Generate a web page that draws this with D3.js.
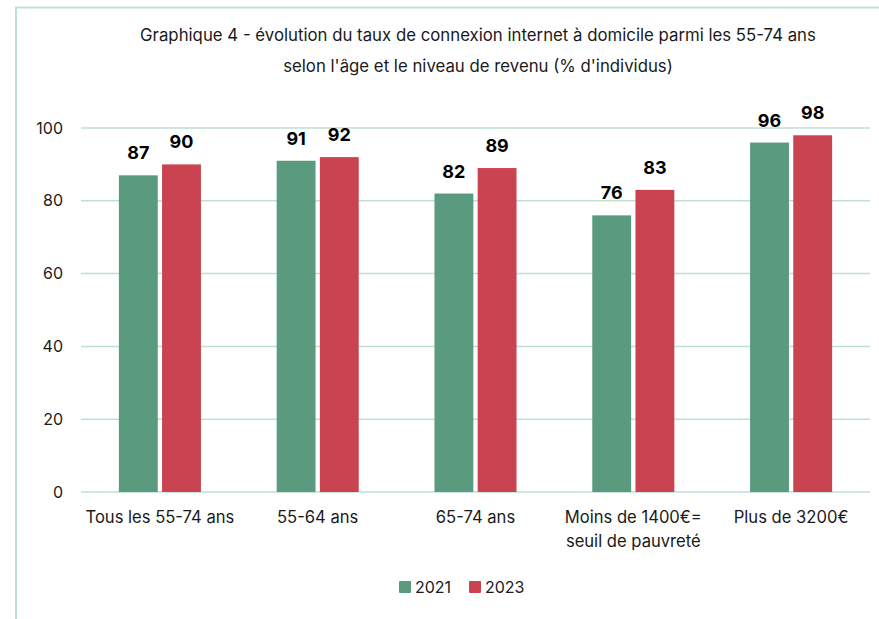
<!DOCTYPE html>
<html lang="fr">
<head>
<meta charset="UTF-8" />
<title>Graphique 4</title>
<script src="https://cdn.jsdelivr.net/npm/d3@7"></script>
<style>
  body { margin: 0; background: #fff; }
  svg text { font-family: Inter, "Liberation Sans", Arial, sans-serif; fill: #1a1a1a; }
</style>
</head>
<body>
<svg id="chart" width="879" height="619"></svg>
<script>
// data
var categories = ["Tous les 55-74 ans", "55-64 ans", "65-74 ans", "Moins de 1400€=\nseuil de pauvreté", "Plus de 3200€"];
var years = ["2021", "2023"];
var values2021 = [87, 91, 82, 76, 96];
var values2023 = [90, 92, 89, 83, 98];
var yTicks = [0, 20, 40, 60, 80, 100];
var colors = ["#5a9b7f", "#c94450"];

var svg = d3.select("#chart");

// frame
svg.append("path")
  .attr("d", "M16,619 L16,7.5 L879,7.5")
  .attr("fill", "none")
  .attr("stroke", "#bfe0d5")
  .attr("stroke-width", 2);

// title
var title = svg.append("text")
  .attr("x", 478).attr("text-anchor", "middle")
  .style("font-size", "16.8px");
title.append("tspan").attr("x", 478).attr("y", 41)
  .text("Graphique 4 - évolution du taux de connexion internet à domicile parmi les 55-74 ans");
title.append("tspan").attr("x", 478).attr("y", 72)
  .text("selon l'âge et le niveau de revenu (% d'individus)");

var x = d3.scaleBand().domain(categories).range([81, 870]).paddingInner(0.48).paddingOuter(0.24);
var xi = d3.scaleBand().domain(years).range([0, x.bandwidth()]).paddingInner(0.1);
var y = d3.scaleLinear().domain([0, 100]).range([492, 128]);

// grid
svg.append("g").selectAll("line").data(yTicks).join("line")
  .attr("x1", 81).attr("x2", 870)
  .attr("y1", function (d) { return y(d); })
  .attr("y2", function (d) { return y(d); })
  .attr("stroke", "#bfe0d5").attr("stroke-width", 1.5);

svg.append("g").selectAll("text").data(yTicks).join("text")
  .attr("x", 63).attr("y", function (d) { return y(d); })
  .attr("dy", "0.35em").attr("text-anchor", "end")
  .style("font-size", "16px")
  .text(function (d) { return d; });

// bars
var rows = categories.map(function (c, i) {
  return { cat: c, vals: [values2021[i], values2023[i]] };
});

var groups = svg.append("g").selectAll("g").data(rows).join("g")
  .attr("transform", function (d) { return "translate(" + x(d.cat) + ",0)"; });

groups.selectAll("rect").data(function (d) { return d.vals; }).join("rect")
  .attr("x", function (d, i) { return xi(years[i]); })
  .attr("y", function (d) { return y(d); })
  .attr("width", xi.bandwidth())
  .attr("height", function (d) { return y(0) - y(d); })
  .attr("fill", function (d, i) { return colors[i]; });

groups.selectAll("text").data(function (d) { return d.vals; }).join("text")
  .attr("x", function (d, i) { return xi(years[i]) + xi.bandwidth() / 2; })
  .attr("y", function (d) { return y(d) - 16; })
  .attr("text-anchor", "middle")
  .style("font-size", "18px").style("font-weight", "bold")
  .style("fill", "#000")
  .text(function (d) { return d; });

// x labels
var xl = svg.append("g").selectAll("text").data(categories).join("text")
  .attr("y", 523)
  .attr("text-anchor", "middle")
  .style("font-size", "16.6px");
xl.each(function (d) {
  var t = d3.select(this);
  var cx = x(d) + x.bandwidth() / 2;
  d.split("\n").forEach(function (line, k) {
    t.append("tspan").attr("x", cx).attr("dy", k ? 24 : 0).text(line);
  });
});

// legend
var legend = svg.append("g").selectAll("g").data(years).join("g")
  .attr("transform", function (d, i) { return "translate(" + (399 + i * 70) + ",581)"; });
legend.append("rect").attr("width", 12).attr("height", 12).attr("rx", 1)
  .attr("fill", function (d, i) { return colors[i]; });
legend.append("text").attr("x", 16).attr("y", 12)
  .style("font-size", "16px")
  .text(function (d) { return d; });
</script>
</body>
</html>
